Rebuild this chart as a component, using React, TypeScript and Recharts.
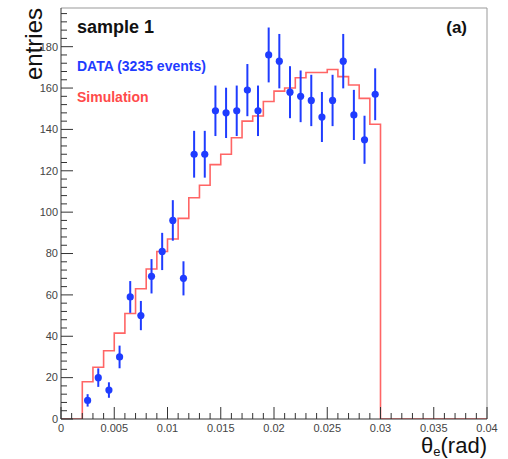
import React from 'react';
import {
  ComposedChart, Line, Scatter, ErrorBar, XAxis, YAxis, ReferenceLine, Customized,
} from 'recharts';

// bin centres (bin width 0.001 rad)
const binCenters = [
  0.0025, 0.0035, 0.0045, 0.0055, 0.0065, 0.0075, 0.0085, 0.0095, 0.0105, 0.0115,
  0.0125, 0.0135, 0.0145, 0.0155, 0.0165, 0.0175, 0.0185, 0.0195, 0.0205, 0.0215,
  0.0225, 0.0235, 0.0245, 0.0255, 0.0265, 0.0275, 0.0285, 0.0295,
];

const dataCounts = [
  9, 20, 14, 30, 59, 50, 69, 81, 96, 68,
  128, 128, 149, 148, 149, 159, 149, 176, 173, 158,
  156, 154, 146, 154, 173, 147, 135, 157,
];

const simCounts = [
  18, 25, 33, 41.5, 51, 63, 72.5, 81, 87, 97,
  107, 113, 123, 128, 136, 144, 146.5, 153.5, 158.5, 160,
  165, 167.5, 167.5, 169, 165.5, 161.5, 155, 142.5,
];

const X_MIN = 0;
const X_MAX = 0.04;
const Y_MAX = 198.7;
const BIN_W = 0.001;

const BLUE = '#1f3cff';
const RED = '#ff4a4a';
const FONT = '"Liberation Sans", Arial, Helvetica, sans-serif';

const points = binCenters.map((c, i) => ({
  x: c, y: dataCounts[i], err: Math.sqrt(dataCounts[i]),
}));

// step outline of the simulation histogram, zero outside the filled bins
const simStep = [
  { x: X_MIN, y: 0 },
  ...binCenters.map((c, i) => ({ x: c - BIN_W / 2, y: simCounts[i] })),
  { x: binCenters[binCenters.length - 1] + BIN_W / 2, y: 0 },
  { x: X_MAX, y: 0 },
];

const xTicks = Array.from({ length: 41 }, (_, i) => i / 1000);
const yTicks = Array.from({ length: 50 }, (_, i) => i * 4);

const totalEvents = dataCounts.reduce((a, b) => a + b, 0);

const XTick = (props: any) => {
  const { x, y, payload } = props;
  const k = Math.round(payload.value * 1000);
  const major = k % 5 === 0;
  return (
    <g>
      <line x1={x} x2={x} y1={y} y2={y - (major ? 12 : 6)} stroke="#333" />
      {major && (
        <text x={x} y={y + 13} textAnchor="middle" fontSize={11} fill="#444" fontFamily={FONT}>
          {String(k / 1000)}
        </text>
      )}
    </g>
  );
};

const YTick = (props: any) => {
  const { x, y, payload } = props;
  const major = payload.value % 20 === 0;
  return (
    <g>
      <line x1={x} x2={x + (major ? 12 : 6)} y1={y} y2={y} stroke="#333" />
      {major && (
        <text x={x - 3} y={y} dy="0.35em" textAnchor="end" fontSize={11} fill="#444" fontFamily={FONT}>
          {payload.value}
        </text>
      )}
    </g>
  );
};

const Dot = (props: any) => <circle cx={props.cx} cy={props.cy} r={3.6} fill={BLUE} />;

const Annotations = () => (
  <g fontFamily={FONT}>
    <text x={42} y={8} transform="rotate(-90 42 8)" textAnchor="end" fontSize={24} fill="#111">
      entries
    </text>
    <text x={487} y={453} textAnchor="end" fontSize={22} fill="#111">
      θ<tspan fontSize={13} dy={3}>e</tspan><tspan dy={-3}>(rad)</tspan>
    </text>
    <text x={77} y={33} fontSize={18} fontWeight="bold" fill="#111">sample 1</text>
    <text x={77} y={71} fontSize={14} fontWeight="bold" fill={BLUE}>
      {`DATA (${totalEvents} events)`}
    </text>
    <text x={77} y={101.5} fontSize={14} fontWeight="bold" fill={RED}>Simulation</text>
    <text x={467} y={33} textAnchor="end" fontSize={17} fontWeight="bold" fill="#111">(a)</text>
  </g>
);

const App = () => (
  <div style={{ position: 'absolute', left: 0, top: 0, background: '#fff' }}>
    <ComposedChart
      width={508}
      height={459}
      margin={{ top: 8, right: 21, bottom: 0, left: 0 }}
    >
      <XAxis
        dataKey="x"
        type="number"
        domain={[X_MIN, X_MAX]}
        ticks={xTicks}
        interval={0}
        height={40}
        tickSize={0}
        tickMargin={0}
        tick={XTick}
        axisLine={{ stroke: '#333' }}
        allowDataOverflow
      />
      <YAxis
        type="number"
        domain={[0, Y_MAX]}
        ticks={yTicks}
        interval={0}
        width={61}
        tickSize={0}
        tickMargin={0}
        tick={YTick}
        axisLine={{ stroke: '#333' }}
        allowDataOverflow
      />
      <ReferenceLine y={Y_MAX} stroke="#999" />
      <ReferenceLine x={X_MAX} stroke="#999" />
      <Line
        data={simStep}
        dataKey="y"
        type="stepAfter"
        stroke={RED}
        strokeWidth={1.6}
        strokeOpacity={0.85}
        dot={false}
        activeDot={false}
        isAnimationActive={false}
      />
      <Scatter data={points} dataKey="y" shape={Dot} isAnimationActive={false}>
        <ErrorBar dataKey="err" direction="y" width={0} stroke={BLUE} strokeWidth={2} />
      </Scatter>
      <Customized component={Annotations} />
    </ComposedChart>
  </div>
);

export default App;
